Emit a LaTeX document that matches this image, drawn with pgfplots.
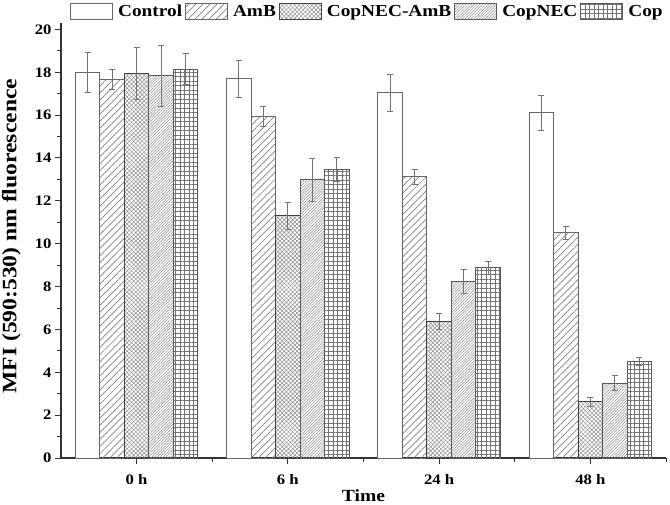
\documentclass[border=0pt]{standalone}
\usepackage{fontspec}
\setmainfont{Liberation Serif}[FakeStretch=1.15]
\usepackage{pgfplots}
\usepackage{pgfplotstable}
\pgfplotsset{compat=1.18}
\usetikzlibrary{patterns.meta}

\pgfplotstableread{
x y e
0 18.00 0.92
1 17.70 0.85
2 17.05 0.86
3 16.12 0.81
}\tcontrol
\pgfplotstableread{
x y e
0 17.65 0.47
1 15.95 0.47
2 13.12 0.37
3 10.52 0.30
}\tamb
\pgfplotstableread{
x y e
0 17.95 1.20
1 11.30 0.65
2 6.37 0.37
3 2.62 0.19
}\tcna
\pgfplotstableread{
x y e
0 17.85 1.42
1 12.98 1.00
2 8.25 0.57
3 3.50 0.34
}\tcopnec
\pgfplotstableread{
x y e
0 18.15 0.73
1 13.45 0.56
2 8.87 0.31
3 4.50 0.19
}\tcop

\pgfplotsset{
  eb/.style={error bars/.cd, y dir=both, y explicit, error mark=|,
    error bar style={black!55, line width=0.8pt},
    error mark options={black!55, line width=0.8pt, mark size=3pt}},
}

\begin{document}
\begin{tikzpicture}
\begin{axis}[name=ax, scale only axis, width=605pt, height=435pt,
  xmin=-0.5, xmax=3.5, ymin=0, ymax=20.3,
  ybar=0pt, bar width=24.5pt,
  axis x line*=bottom, axis y line*=left,
  axis line style={line width=1.2pt, black!80},
  xtick={0,1,2,3}, xticklabels={0 h,6 h,24 h,48 h},
  minor xtick={0.5,1.5,2.5,3.5},
  ytick={0,2,...,20}, minor ytick={1,3,...,19},
  tick align=outside, major tick length=6pt, minor tick length=3.5pt,
  tick style={black!80, line width=1pt},
  ticklabel style={font=\bfseries\fontsize{14.5}{15}\selectfont},
  xticklabel style={yshift=-7pt},
  /pgf/number format/assume math mode=true,
  xlabel={Time}, ylabel={MFI (590:530) nm fluorescence},
  xlabel style={font=\bfseries\fontsize{17}{18}\selectfont, at={(axis description cs:0.5,-0.087)}, anchor=center},
  ylabel style={font=\bfseries\fontsize{20.5}{21}\selectfont, at={(axis description cs:-0.082,0.51)}, anchor=center},
  legend columns=5,
  legend style={at={(axis description cs:0,1)}, anchor=west, xshift=9pt, yshift=11.7pt,
    draw=none, fill=none, inner sep=0pt,
    font=\bfseries\fontsize{16.8}{17}\selectfont,
    /tikz/every odd column/.append style={column sep=3pt},
    /tikz/every even column/.append style={column sep=1pt}},
  legend image code/.code={\draw[#1, line width=0.9pt] (0pt,-8pt) rectangle (42pt,8pt);},
]
\addplot[draw=black!60, line width=0.9pt, fill=white, eb] table[x=x,y=y,y error=e]{\tcontrol};
\addplot[draw=black!60, line width=0.9pt, pattern={Lines[angle=45,distance=5pt,line width=0.7pt]}, pattern color=black!50, eb] table[x=x,y=y,y error=e]{\tamb};
\addplot[draw=black!75, line width=0.9pt, pattern={Hatch[angle=45,distance=3pt,line width=0.5pt]}, pattern color=black!45, eb] table[x=x,y=y,y error=e]{\tcna};
\addplot[draw=black!65, line width=0.9pt, pattern={Lines[angle=45,distance=2pt,line width=0.5pt]}, pattern color=black!45, eb] table[x=x,y=y,y error=e]{\tcopnec};
\addplot[draw=black!65, line width=0.9pt, pattern={Hatch[angle=0,distance=4.5pt,line width=0.7pt]}, pattern color=black!55, eb] table[x=x,y=y,y error=e]{\tcop};
\legend{Control,AmB,CopNEC-AmB,CopNEC,Cop}
\end{axis}
\pgfresetboundingbox
\path[use as bounding box] ([shift={(-61pt,-46pt)}]ax.south west) rectangle ([shift={(609pt,458pt)}]ax.south west);
\end{tikzpicture}
\end{document}
